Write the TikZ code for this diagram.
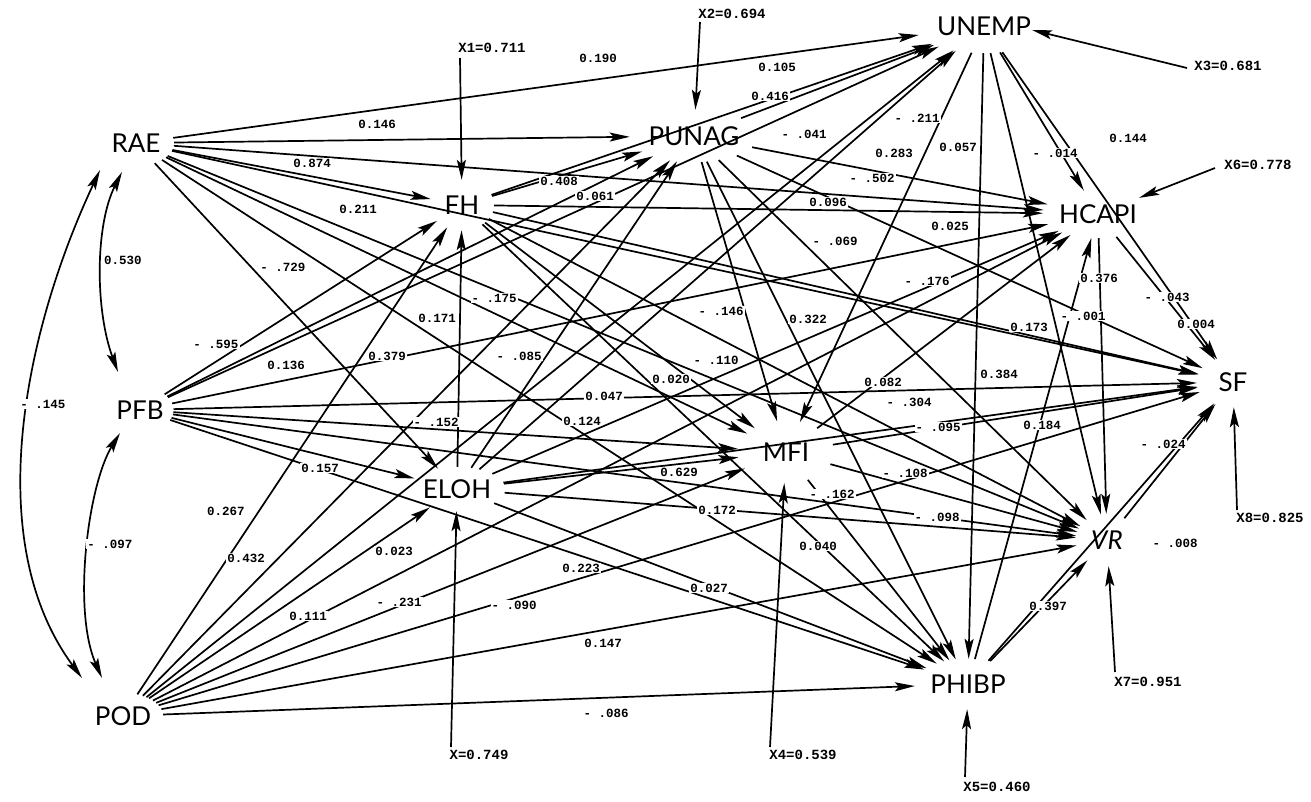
\documentclass[tikz,border=0pt]{standalone}
\usepackage{fontspec}
\setmainfont{Lato}
\newfontfamily\coefmono{Liberation Mono}
\usetikzlibrary{arrows.meta,shapes.geometric}
\begin{document}
\begin{tikzpicture}[x=1pt,y=-1pt,
 var/.style={ellipse,inner sep=0pt,font=\fontsize{26}{26}\selectfont},
 arr/.style={-{Stealth[length=20pt,width=9pt,inset=4pt]},line width=1.7pt},
 dbl/.style={{Stealth[length=20pt,width=9pt,inset=4pt]}-{Stealth[length=20pt,width=9pt,inset=4pt]},line width=1.7pt},
 coef/.style={font=\coefmono\bfseries\fontsize{12.5}{12.5}\selectfont,fill=white,inner sep=1pt},
 res/.style={font=\coefmono\bfseries\fontsize{14}{14}\selectfont,inner sep=1pt}]
\useasboundingbox (0,0) rectangle (1311,801);
% variables
\node[var,minimum width=76pt,minimum height=46pt] (RAE) at (136,143) {RAE};
\node[var,minimum width=66pt,minimum height=46pt] (PFB) at (140,410) {PFB};
\node[var,minimum width=80pt,minimum height=46pt] (POD) at (123,716) {POD};
\node[var,minimum width=96pt,minimum height=44pt] (ELOH) at (457,489) {ELOH};
\node[var,minimum width=64pt,minimum height=50pt] (FH) at (462,205) {FH};
\node[var,minimum width=124pt,minimum height=52pt] (PUNAG) at (694,136) {PUNAG};
\node[var,minimum width=138pt,minimum height=54pt] (UNEMP) at (984,26) {UNEMP};
\node[var,minimum width=96pt,minimum height=62pt] (MFI) at (786,452) {MFI};
\node[var,minimum width=104pt,minimum height=50pt] (PHIBP) at (968,684) {PHIBP};
\node[var,minimum width=100pt,minimum height=48pt] (HCAPI) at (1098,214) {HCAPI};
\node[var,minimum width=62pt,minimum height=52pt] (VR) at (1107,540) {\itshape VR};
\node[var,minimum width=72pt,minimum height=50pt] (SF) at (1233,382) {SF};
% paths
\foreach \s in {RAE,PFB,POD}{\foreach \t in {ELOH,FH,PUNAG,UNEMP,MFI,PHIBP,HCAPI,VR,SF}{\draw[arr] (\s) -- (\t);}}
\foreach \t in {FH,PUNAG,UNEMP,MFI,PHIBP,HCAPI,VR,SF}{\draw[arr] (ELOH) -- (\t);}
\foreach \t in {PUNAG,UNEMP,MFI,PHIBP,HCAPI,VR,SF}{\draw[arr] (FH) -- (\t);}
\foreach \t in {UNEMP,MFI,PHIBP,HCAPI,VR,SF}{\draw[arr] (PUNAG) -- (\t);}
\foreach \t in {MFI,PHIBP,HCAPI,VR,SF}{\draw[arr] (UNEMP) -- (\t);}
\foreach \t in {PHIBP,HCAPI,VR,SF}{\draw[arr] (MFI) -- (\t);}
\foreach \t in {HCAPI,VR,SF}{\draw[arr] (PHIBP) -- (\t);}
\foreach \t in {VR,SF}{\draw[arr] (HCAPI) -- (\t);}
\draw[arr] (VR) -- (SF);
% correlations
\draw[dbl] ([xshift=-14pt,yshift=-29pt]RAE.center) .. controls (95,225) and (95,310) .. ([xshift=-22pt,yshift=38pt]PFB.center);
\draw[dbl] ([xshift=-36pt,yshift=-27pt]RAE.center) .. controls (25,330) and (-20,540) .. ([xshift=-41pt,yshift=38pt]POD.center);
\draw[dbl] ([xshift=-20pt,yshift=-23pt]PFB.center) .. controls (88,485) and (72,610) .. ([xshift=-21pt,yshift=38pt]POD.center);
% residuals
\node[res] (e1) at (492,48) {X1=0.711};
\node[res] (e2) at (732,14) {X2=0.694};
\node[res] (e3) at (1228,66) {X3=0.681};
\node[res] (e4) at (803,755) {X4=0.539};
\node[res] (e5) at (997,787) {X5=0.460};
\node[res] (e6) at (1258,165) {X6=0.778};
\node[res] (e7) at (1148,682) {X7=0.951};
\node[res] (e8) at (1270,518) {X8=0.825};
\node[res] (e9) at (479,755) {X=0.749};
\coordinate (r1) at (460,58);
\coordinate (r2) at (700,22);
\coordinate (r3) at (1187,68);
\coordinate (r4) at (770,747);
\coordinate (r5) at (965,777);
\coordinate (r6) at (1215,168);
\coordinate (r7) at (1115,672);
\coordinate (r8) at (1237,510);
\coordinate (r9) at (451,747);
\draw[arr] (r1) -- (FH);
\draw[arr] (r2) -- (PUNAG);
\draw[arr] (r3) -- ([xshift=48pt,yshift=-4pt]UNEMP.center);
\draw[arr] (r4) -- (MFI);
\draw[arr] (r5) -- (PHIBP);
\draw[arr] (r6) -- (HCAPI);
\draw[arr] (r7) -- (VR);
\draw[arr] (r8) -- (SF);
\draw[arr] (r9) -- (ELOH);
% coefficients
\foreach \p/\t in {
 {(598,58)}/0.190, {(377,124)}/0.146, {(312,163)}/0.874, {(358,209)}/0.211, {(283,267)}/- .729,
 {(123,260)}/0.530, {(216,344)}/- .595, {(286,365)}/0.136, {(387,356)}/0.379, {(43,404)}/- .145,
 {(320,468)}/0.157, {(226,511)}/0.267, {(437,318)}/0.171, {(436,422)}/- .152, {(494,298)}/- .175,
 {(519,356)}/- .085, {(721,311)}/- .146, {(808,319)}/0.322, {(716,360)}/- .110, {(671,379)}/0.020,
 {(604,396)}/0.047, {(582,421)}/0.124, {(679,472)}/0.629, {(717,510)}/0.172, {(832,494)}/- .162,
 {(559,181)}/0.408, {(595,196)}/0.061, {(777,67)}/0.105, {(770,96)}/0.416, {(804,134)}/- .041,
 {(828,202)}/0.096, {(835,241)}/- .069, {(917,118)}/- .211, {(958,147)}/0.057, {(894,153)}/0.283,
 {(872,178)}/- .502, {(950,226)}/0.025, {(1055,153)}/- .014, {(1128,138)}/0.144, {(927,281)}/- .176,
 {(1099,278)}/0.376, {(1167,297)}/- .043, {(1083,316)}/- .001, {(1029,327)}/0.173, {(1196,324)}/0.004,
 {(999,374)}/0.384, {(883,382)}/0.082, {(909,402)}/- .304, {(938,427)}/- .095, {(1042,425)}/0.184,
 {(1163,444)}/- .024, {(905,473)}/- .108, {(937,517)}/- .098, {(110,544)}/- .097, {(246,558)}/0.432,
 {(394,551)}/0.023, {(308,616)}/0.111, {(399,602)}/- .231, {(581,568)}/0.223, {(709,588)}/0.027,
 {(514,605)}/- .090, {(603,643)}/0.147, {(606,713)}/- .086, {(818,546)}/0.040, {(1175,543)}/- .008,
 {(1048,606)}/0.397}
 {\node[coef] at \p {\t};}
\end{tikzpicture}
\end{document}
